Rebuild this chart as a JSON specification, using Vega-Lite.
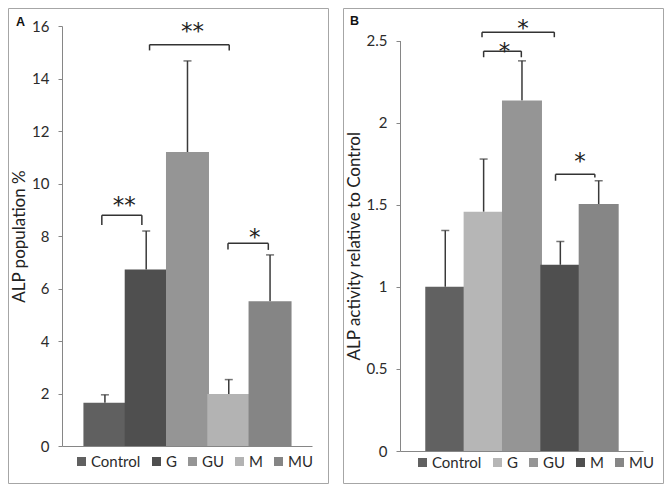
{
  "$schema": "https://vega.github.io/schema/vega-lite/v6.json",
  "padding": {"left": 7, "top": 7, "right": 7, "bottom": 9},
  "datasets": {
    "alpA": [
      {"group": "Control", "idx": 1, "mean": 1.65, "upper": 1.95},
      {"group": "G", "idx": 2, "mean": 6.72, "upper": 8.19},
      {"group": "GU", "idx": 3, "mean": 11.2, "upper": 14.67},
      {"group": "M", "idx": 4, "mean": 1.98, "upper": 2.53},
      {"group": "MU", "idx": 5, "mean": 5.51, "upper": 7.28}
    ],
    "sigA": [
      {"left": 0.925, "right": 1.895, "level": 8.79, "leftEnd": 8.42, "rightEnd": 8.42, "label": "**", "tx": 1.47, "ty": 9.37},
      {"left": 2.081, "right": 4.011, "level": 15.29, "leftEnd": 15.07, "rightEnd": 15.07, "label": "**", "tx": 3.12, "ty": 15.99},
      {"left": 3.981, "right": 4.958, "level": 7.72, "leftEnd": 7.49, "rightEnd": 7.47, "label": "*", "tx": 4.632, "ty": 8.17}
    ],
    "alpB": [
      {"group": "Control", "idx": 1, "mean": 1.0, "upper": 1.343},
      {"group": "G", "idx": 2, "mean": 1.457, "upper": 1.778},
      {"group": "GU", "idx": 3, "mean": 2.134, "upper": 2.376},
      {"group": "M", "idx": 4, "mean": 1.134, "upper": 1.276},
      {"group": "MU", "idx": 5, "mean": 1.504, "upper": 1.646}
    ],
    "sigB": [
      {"left": 2.0, "right": 2.983, "level": 2.435, "leftEnd": 2.398, "rightEnd": 2.398, "label": "*", "tx": 2.545, "ty": 2.467},
      {"left": 1.958, "right": 3.843, "level": 2.551, "leftEnd": 2.52, "rightEnd": 2.52, "label": "*", "tx": 3.025, "ty": 2.605},
      {"left": 3.875, "right": 4.9, "level": 1.685, "leftEnd": 1.646, "rightEnd": 1.666, "label": "*", "tx": 4.51, "ty": 1.797}
    ]
  },
  "hconcat": [
    {
      "width": 320,
      "height": 475,
      "title": {"text": "A", "dx": 8, "offset": -20},
      "layer": [
        {
          "data": {"name": "alpA"},
          "mark": {"type": "rule", "color": "#3a3a3a", "strokeWidth": 1.5},
          "encoding": {
            "x": {"field": "idx", "type": "quantitative", "scale": {"domain": [0.0814, 5.895], "range": [54, 304], "nice": false, "zero": false}, "axis": {"orient": "bottom", "offset": -37, "ticks": false, "labels": false, "title": null, "grid": false}},
            "y": {"field": "mean", "type": "quantitative", "scale": {"domain": [0, 16], "range": [438, 18], "nice": false, "zero": false}, "axis": {"orient": "left", "offset": -54, "values": [0, 2, 4, 6, 8, 10, 12, 14, 16], "title": "ALP population %", "grid": false}},
            "y2": {"field": "upper"}
          }
        },
        {
          "data": {"name": "alpA"},
          "mark": {"type": "tick", "orient": "horizontal", "size": 8, "thickness": 1.5, "color": "#3a3a3a"},
          "encoding": {
            "x": {"field": "idx", "type": "quantitative"},
            "y": {"field": "upper", "type": "quantitative"}
          }
        },
        {
          "data": {"name": "alpA"},
          "mark": {"type": "bar", "width": 43, "orient": "vertical"},
          "encoding": {
            "x": {"field": "idx", "type": "quantitative"},
            "y": {"field": "mean", "type": "quantitative", "stack": null},
            "color": {"field": "group", "type": "nominal", "scale": {"domain": ["Control", "G", "GU", "M", "MU"], "range": ["#606060", "#4f4f4f", "#959595", "#b3b3b3", "#858585"]}, "legend": {"orient": "none", "legendX": 66, "legendY": 446, "direction": "horizontal", "columns": 5, "title": null}}
          }
        },
        {
          "data": {"name": "sigA"},
          "mark": {"type": "rule", "color": "#333", "strokeWidth": 1.5},
          "encoding": {
            "x": {"field": "left", "type": "quantitative"},
            "x2": {"field": "right"},
            "y": {"field": "level", "type": "quantitative"}
          }
        },
        {
          "data": {"name": "sigA"},
          "mark": {"type": "rule", "color": "#333", "strokeWidth": 1.5},
          "encoding": {
            "x": {"field": "left", "type": "quantitative"},
            "y": {"field": "level", "type": "quantitative"},
            "y2": {"field": "leftEnd"}
          }
        },
        {
          "data": {"name": "sigA"},
          "mark": {"type": "rule", "color": "#333", "strokeWidth": 1.5},
          "encoding": {
            "x": {"field": "right", "type": "quantitative"},
            "y": {"field": "level", "type": "quantitative"},
            "y2": {"field": "rightEnd"}
          }
        },
        {
          "data": {"name": "sigA"},
          "mark": {"type": "text", "font": "DejaVu Sans", "fontSize": 23, "baseline": "alphabetic", "align": "center", "dy": 13, "color": "#222"},
          "encoding": {
            "x": {"field": "tx", "type": "quantitative"},
            "y": {"field": "ty", "type": "quantitative"},
            "text": {"field": "label"}
          }
        }
      ]
    },
    {
      "width": 320,
      "height": 475,
      "title": {"text": "B", "dx": 7, "offset": -19},
      "layer": [
        {
          "data": {"name": "alpB"},
          "mark": {"type": "rule", "color": "#3a3a3a", "strokeWidth": 1.5},
          "encoding": {
            "x": {"field": "idx", "type": "quantitative", "scale": {"domain": [-0.05, 6.025], "range": [57, 300], "nice": false, "zero": false}, "axis": {"orient": "bottom", "offset": -32, "ticks": false, "labels": false, "title": null, "grid": false}},
            "y": {"field": "mean", "type": "quantitative", "scale": {"domain": [0, 2.5], "range": [443, 32.5], "nice": false, "zero": false}, "axis": {"orient": "left", "offset": -57, "values": [0, 0.5, 1, 1.5, 2, 2.5], "format": "~g", "title": "ALP activity relative to  Control", "grid": false}},
            "y2": {"field": "upper"}
          }
        },
        {
          "data": {"name": "alpB"},
          "mark": {"type": "tick", "orient": "horizontal", "size": 8, "thickness": 1.5, "color": "#3a3a3a"},
          "encoding": {
            "x": {"field": "idx", "type": "quantitative"},
            "y": {"field": "upper", "type": "quantitative"}
          }
        },
        {
          "data": {"name": "alpB"},
          "mark": {"type": "bar", "width": 40, "orient": "vertical"},
          "encoding": {
            "x": {"field": "idx", "type": "quantitative"},
            "y": {"field": "mean", "type": "quantitative", "stack": null},
            "color": {"field": "group", "type": "nominal", "scale": {"domain": ["Control", "G", "GU", "M", "MU"], "range": ["#616161", "#b6b6b6", "#959595", "#4f4f4f", "#868686"]}, "legend": {"orient": "none", "legendX": 72, "legendY": 447, "direction": "horizontal", "columns": 5, "title": null}}
          }
        },
        {
          "data": {"name": "sigB"},
          "mark": {"type": "rule", "color": "#333", "strokeWidth": 1.5},
          "encoding": {
            "x": {"field": "left", "type": "quantitative"},
            "x2": {"field": "right"},
            "y": {"field": "level", "type": "quantitative"}
          }
        },
        {
          "data": {"name": "sigB"},
          "mark": {"type": "rule", "color": "#333", "strokeWidth": 1.5},
          "encoding": {
            "x": {"field": "left", "type": "quantitative"},
            "y": {"field": "level", "type": "quantitative"},
            "y2": {"field": "leftEnd"}
          }
        },
        {
          "data": {"name": "sigB"},
          "mark": {"type": "rule", "color": "#333", "strokeWidth": 1.5},
          "encoding": {
            "x": {"field": "right", "type": "quantitative"},
            "y": {"field": "level", "type": "quantitative"},
            "y2": {"field": "rightEnd"}
          }
        },
        {
          "data": {"name": "sigB"},
          "mark": {"type": "text", "font": "DejaVu Sans", "fontSize": 23, "baseline": "alphabetic", "align": "center", "dy": 13, "color": "#222"},
          "encoding": {
            "x": {"field": "tx", "type": "quantitative"},
            "y": {"field": "ty", "type": "quantitative"},
            "text": {"field": "label"}
          }
        }
      ]
    }
  ],
  "spacing": 13,
  "resolve": {"scale": {"color": "independent", "x": "independent", "y": "independent"}, "legend": {"color": "independent"}},
  "config": {
    "view": {"stroke": "#a6a6a6", "strokeWidth": 1, "fill": "white"},
    "axis": {
      "domainColor": "#868686", "domainWidth": 1,
      "tickColor": "#868686", "tickSize": 4, "tickWidth": 1,
      "labelFont": "Lato", "labelFontSize": 15, "labelColor": "#2b2b2b", "labelPadding": 9,
      "titleFont": "Lato", "titleFontSize": 17, "titleFontWeight": "normal", "titleColor": "#222", "titlePadding": 3
    },
    "legend": {
      "symbolType": "square", "symbolSize": 81, "symbolStrokeWidth": 0,
      "labelFont": "Lato", "labelFontSize": 15, "labelColor": "#2b2b2b",
      "labelOffset": 2, "columnPadding": 8, "padding": 0, "gridAlign": "none"
    },
    "title": {"anchor": "start", "frame": "group", "orient": "top", "baseline": "alphabetic", "font": "Liberation Sans", "fontSize": 12.5, "fontWeight": "bold", "color": "#111"}
  }
}
